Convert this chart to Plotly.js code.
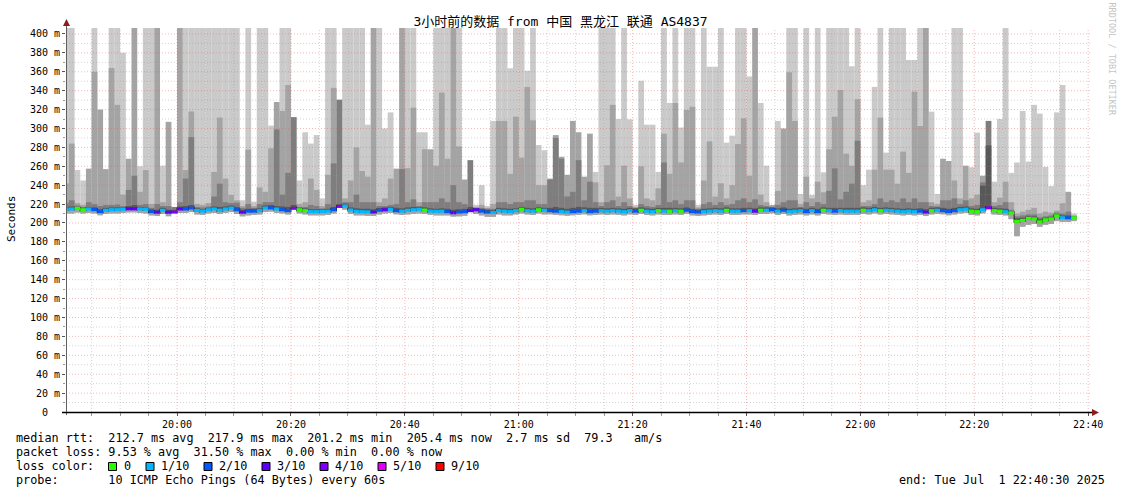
<!DOCTYPE html>
<html><head><meta charset="utf-8">
<script src="https://cdn.plot.ly/plotly-3.0.1.min.js"></script>
<style>html,body{margin:0;padding:0;background:#fff}#chart{width:1121px;height:494px}</style>
</head><body><div id="chart"></div>
<script>
// ---- chart values ----
const titleText = '3小时前的数据 from 中国 黑龙江 联通 AS4837';
const firstStep = '2025-07-01 19:40:00';   // first one-minute step
const axisStart = '2025-07-01 19:40:30';
const axisEnd   = '2025-07-01 22:40:30';
const lossLabels = ['0', '1/10', '2/10', '3/10', '4/10', '5/10', '9/10'];
const lossColors = ['#26ff00', '#00b8ff', '#0059ff', '#5e00ff', '#7e00ff', '#dd00ff', '#ff0000'];
const yTickVals = [0,20,40,60,80,100,120,140,160,180,200,220,240,260,280,300,320,340,360,380,400];
const yTickText = ['0\u00a0\u00a0','20 m','40 m','60 m','80 m','100 m','120 m','140 m','160 m','180 m','200 m','220 m','240 m','260 m','280 m','300 m','320 m','340 m','360 m','380 m','400 m'];

// median rtt per minute (ms)
const median = [
214.8,214.8,215.5,214,214.8,214.1,212,213.5,214.1,214.1,
214.5,215,215,214.8,214.5,212,211.3,213.5,211.3,211.5,
214.8,214.8,215.8,213.2,212.5,214,214.8,213.5,214.8,215.8,
214,211.3,212.5,212.5,213,215.8,216,214.8,214,213,
215.5,214,213,212,212,212.3,212.5,214,217.5,217.9,
213.7,212.3,212,211.8,211.5,213.5,214,214.5,213,212.5,
213.5,214,214.5,213.7,212.5,212.3,212.5,212,210.8,211.5,
212,213,214,212.5,211.5,211,213,212.5,212,213,
214.5,213,212.5,214,213.5,213,212.5,212,211.5,212,
212.5,213,212,212.5,213,212.5,213,212.5,212,213,
212.5,213.5,212.5,212,213,212.5,212.5,213,212.5,213.5,
212,211.5,212,212.5,213,212.5,213.5,212.5,212.5,213,
213,212.5,213.5,213.5,214,212.5,213.5,212,212.5,213,
212,213,212,213.5,213,212.5,213,212.5,212.5,212.5,
213.5,213,214,213,213.5,213,212.5,212,212.5,212,
212.5,211.5,213,213.5,213,212,213,214,214.5,212.5,
212,214,216,213,212.5,212,210.6,201.7,202.7,204.8,
204.4,201.2,203.4,204.4,207.6,205.5,205.5,205.4];

// lost pings out of 10 per minute
const loss = [
1,1,0,0,1,2,2,1,1,1,
1,3,3,1,1,2,3,1,3,4,
3,2,2,1,1,1,1,1,1,1,
2,3,2,2,1,1,2,1,2,2,
4,0,0,1,1,1,1,2,4,1,
1,1,1,1,3,2,3,1,2,1,
1,1,1,0,1,1,1,2,3,2,
2,3,3,2,2,1,1,1,1,1,
0,1,1,0,1,2,2,1,1,2,
2,1,2,2,1,1,1,1,1,1,
2,0,1,1,0,1,0,1,0,2,
2,2,1,1,1,1,0,1,1,2,
1,3,0,1,2,1,2,1,1,1,
2,1,2,0,1,2,1,1,1,1,
0,1,1,0,1,1,1,1,1,1,
2,3,0,1,2,2,2,1,1,0,
0,1,4,0,0,1,0,0,0,0,
0,0,0,0,0,1,2,0];

// smoke: top of each band (ms); 1000 = beyond the top of the scale, null = band not drawn
const top1 = [
1000,1000,256,245,null,1000,null,null,1000,1000,
380,null,null,260,1000,1000,null,260.6,null,null,
null,1000,1000,1000,1000,1000,1000,1000,1000,1000,
1000,224,1000,222.6,1000,1000,303,null,1000,1000,
null,245,296,284,293,226,1000,1000,null,1000,
1000,1000,1000,304,null,1000,300,317,null,null,
1000,1000,296,296,null,1000,1000,1000,null,1000,
null,null,219,240,218,308,1000,1000,363.7,1000,
1000,361,1000,282.5,277,null,null,null,null,null,
null,null,null,254,1000,1000,1000,310,1000,309.7,
219,350.6,304,304,254,1000,327,1000,301,1000,
1000,219,1000,365.4,365.4,1000,285,292.4,1000,1000,
355,null,327,260.6,null,308,null,1000,1000,230.7,
1000,229.6,1000,253.6,1000,1000,1000,1000,365.8,1000,
240,256.4,344,1000,274.4,1000,1000,1000,372.5,372.5,
1000,null,317.8,230.7,null,null,1000,1000,null,259,
295.6,null,null,243.7,310,1000,253,264,318.5,265,
325,315.7,259.3,239,317,346,null,210];

const top2 = [
242,284,221,219,257.5,360,320,257,364,325,
230,268,1000,233,256,220,1000,222,307,null,
1000,256,318,220,219,221,254,311.5,247,229.6,
224,218,277.6,218,237.7,233,279,328,318.5,346,
null,220,222,247,235,218,251,343,null,226,
245,280,255,249,1000,222,226,247,257.5,1000,
258,322,222,278,278,260.6,338,268,1000,281,
246,null,217,219,216,220,308,308,252,312.5,
269,344,308.6,240,240,247,293,270,251,308,
296,249,294.5,243,222,261,325,228,260.6,226,
217,260,226,224,236.7,294.5,252,327,264,319.6,
323,216.5,245,286.4,228,242,226,240,283.6,310.8,
250,1000,230,222,219,234,300,359.4,308,220,
249,226,243.7,232.5,278,312.5,340.7,273.4,260.6,331,
222,224,256.4,311.5,256.4,256.4,241.6,275.5,253,339,
302.6,1000,222,220,268,265.6,245,226,260.6,226,
230,250,null,222,226.8,243.7,222,210,212,214,
216,210,212,211,213,220.8,233,208];

const top3 = [
221,224,218.5,217,222,220,218,219,219,219.5,
218,235,250,219,220,216,220,218,218,217,
222,247,291,217,216.5,217.5,228,241.6,222,221,
221.5,216,220,216,220,222,222,299,230,253,
312,217,217,219,218,215.5,220,263,330.5,222,
222,230,222,222,222,218,218,219,220,257,
222,225,218,222,222,222,226,222,240,222,
220,266.5,216,216,215,215,222,222,220,222,
222,224,224,220,220,246,290,268,228,233,
266.5,224,243.7,222,218,222,224,218,222,218,
216,220,218,217,219,264,222,224,220,224,
224,215,220,222,219,222,219,220,224,226,
222,225,219,218,217,219,222,224,224,217,
222,218,222,220,234,257.8,225,233,241.6,287,
218,218,220,226,222,224,222,226,222,226,
222,222,218,217.5,224,224,226,220,224,218,
219,243,308,218,219,222,214,207,208,209,
209,206,207,208,211,210,212,207];

const top4 = [
217,217.5,217,216,217,216.5,214.5,216,216.5,216.5,
216.5,218,219,217,216.5,214.5,214,216,214,214,
217.5,218,219,215.5,214.5,216,217.5,217,217.5,218.5,
217,214,215,215,215.5,218.5,219,218,217.5,217,
219,216,215.5,214.5,214.5,214.5,215,217,220,220.5,
216.5,215.5,215,215,214.5,216,216.5,217,216,215.5,
216.5,217,217,216.5,215.5,215,215.5,215,214,214.5,
215,217,215.5,215,214,213.5,216,215.5,215,215.5,
217,216,215.5,216.5,216,216,217,216,215,216,
217,216.5,216,216,216,215.5,216,215.5,215,216,
215.5,216.5,215.5,215,216,216,216,216,215.5,216.5,
215,214,215,215.5,216,215.5,216.5,215.5,215.5,216,
216,215.5,216.5,216.5,216.5,215.5,216.5,215,215.5,216,
215,216,215,216.5,216,216,216,216,216,216,
216.5,216,217,216,216.5,216,215.5,215,215.5,215,
215.5,214.5,216,216.5,216,215,216,217,217.5,215.5,
215,239.5,282,216,215.5,215,212,205,205.5,207,
207,204,205.5,206.5,209.5,208,208,206.5];

// lowest ping per minute (ms)
const low = [
210,210,211,210,210.5,210,208,209.5,210,210,
210.5,211,211,210.5,210,208,207.5,209.5,207,207.5,
210.5,210.5,211.5,209,208.5,210,210.5,209.5,210.5,211.5,
209.5,207,208,208.5,209,211.5,212,210.5,210,209,
211,210,209,208,208,208,208.5,210,213,214,
209.5,208,208,207.5,207.5,209,210,210.5,209,208.5,
209,209.5,210,209.5,208.5,208,208,208,206.5,207,
207.5,209,209.5,208,206.5,206.5,209,208,208,209,
210,209,208.5,210,209,209,208.5,208,207.5,208,
208.5,209,208,208.5,209,208.5,209,208.5,208,209,
208.5,209.5,208.5,208,209,208.5,208.5,209,208.5,209.5,
208,207.5,208,208.5,209,208.5,209.5,208.5,208.5,209,
209,208.5,209.5,209.5,210,208.5,209.5,208,208.5,209,
208,209,208,209.5,209,208.5,209,208.5,208.5,208.5,
209.5,209,210,209,209.5,209,208.5,208,208.5,208,
208.5,207.5,209,209.5,209,208,209,210,210.5,208.5,
208,210,212,209,208.5,208,204,186,196,198,
199,196,198,199,202,201,201,202];

// ---- drawing ----
const MONO = "'DejaVu Sans Mono', monospace";
const PL = 66, PW = 1025, PT = 28, PH = 384;
const xp = px => (px - PL) / PW;
const yp = py => (PT + PH - py) / PH;
const STEP = 60000;
const t0 = Date.parse(firstStep.replace(' ', 'T') + 'Z');
const fmt = ms => new Date(ms).toISOString().slice(0, 19).replace('T', ' ');
const xs = median.map((_, i) => fmt(t0 + i * STEP));

function band(tops, bases, color) {
  return {
    type: 'bar', x: xs, base: bases,
    y: tops.map((t, i) => (t === null ? null : t - bases[i])),
    width: STEP * 1.01, offset: 0,
    marker: { color: color, line: { width: 0 } },
    hoverinfo: 'skip'
  };
}

const LW = 3.2; // thickness of the median line in ms (about 3 px)
const traces = [
  band(top1, low, '#cacaca'),
  band(top2, low, '#a4a4a4'),
  band(top3, median, '#7e7e7e'),
  band(top4, median, '#585858')
];
// dark connectors between consecutive medians
const cx = [], cb = [], cy = [];
for (let i = 1; i < median.length; i++) {
  cx.push(fmt(t0 + i * STEP));
  const lo = Math.min(median[i - 1], median[i]), hi = Math.max(median[i - 1], median[i]);
  cb.push(lo - LW / 2); cy.push(hi - lo + LW);
}
traces.push({ type: 'bar', x: cx, base: cb, y: cy, width: 11000, offset: -5500,
  marker: { color: '#202020', line: { width: 0 } }, hoverinfo: 'skip' });
// median coloured by loss
traces.push({ type: 'bar', x: xs, base: median.map(m => m - LW / 2), y: median.map(() => LW),
  width: STEP * 1.01, offset: 0,
  marker: { color: loss.map(l => lossColors[l <= 5 ? l : 6]), line: { width: 0 } }, hoverinfo: 'skip' });

// grid (drawn above the smoke, like rrdtool)
const shapes = [];
const redGrid = 'rgba(228,90,90,0.42)', grayGrid = 'rgba(150,150,150,0.42)';
for (let m = 5; m <= 180; m += 5) {
  const t = Date.parse('2025-07-01T19:40:00Z') + m * STEP;
  const isMajor = (m % 20) === 0;
  shapes.push({ type: 'line', xref: 'x', yref: 'paper', x0: fmt(t), x1: fmt(t), y0: 0, y1: 1,
    line: { color: isMajor ? redGrid : grayGrid, width: 1, dash: '1px,2px' }, layer: 'above' });
}
for (let v = 10; v <= 400; v += 10) {
  shapes.push({ type: 'line', xref: 'paper', yref: 'y', x0: 0, x1: 1, y0: v, y1: v,
    line: { color: (v % 20 === 0) ? redGrid : grayGrid, width: 1, dash: '1px,2px' }, layer: 'above' });
}
// axes with arrows
shapes.push({ type: 'line', xref: 'paper', yref: 'paper', x0: xp(66.5), x1: xp(66.5), y0: yp(415), y1: yp(25),
  line: { color: '#606060', width: 1 }, layer: 'above' });
shapes.push({ type: 'line', xref: 'paper', yref: 'paper', x0: xp(62), x1: xp(1093), y0: yp(412.5), y1: yp(412.5),
  line: { color: '#000', width: 1.5 }, layer: 'above' });
shapes.push({ type: 'path', xref: 'paper', yref: 'paper',
  path: `M ${xp(66.5)},${yp(19)} L ${xp(63)},${yp(26)} L ${xp(70)},${yp(26)} Z`,
  fillcolor: '#8c1c1c', line: { width: 0 }, layer: 'above' });
shapes.push({ type: 'path', xref: 'paper', yref: 'paper',
  path: `M ${xp(1099)},${yp(412.5)} L ${xp(1092)},${yp(409)} L ${xp(1092)},${yp(416)} Z`,
  fillcolor: '#8c1c1c', line: { width: 0 }, layer: 'above' });

// legend text
const nb = s => s.replace(/ /g, '\u00a0');
const annotations = [];
function txt(s, px, py, opt) {
  annotations.push(Object.assign({ text: nb(s), xref: 'paper', yref: 'paper', x: xp(px), y: yp(py),
    xanchor: 'left', yanchor: 'middle', showarrow: false, borderpad: 0, borderwidth: 0,
    font: { family: MONO, size: 11.8, color: '#000' } }, opt || {}));
}
txt('median rtt:  212.7 ms avg  217.9 ms max  201.2 ms min  205.4 ms now  2.7 ms sd  79.3   am/s', 16, 438.3);
txt('packet loss: 9.53 % avg  31.50 % max  0.00 % min  0.00 % now', 16, 452.3);
txt('loss color:', 16, 466.3);
txt('probe:       10 ICMP Echo Pings (64 Bytes) every 60s', 16, 480.3);
txt('end: Tue Jul  1 22:40:30 2025', 1105, 480.3, { xanchor: 'right' });
const boxX = [108.5, 146, 204, 262, 320, 378, 436];
lossLabels.forEach((lab, i) => {
  shapes.push({ type: 'rect', xref: 'paper', yref: 'paper', x0: xp(boxX[i]), x1: xp(boxX[i] + 8),
    y0: yp(470.5), y1: yp(462.5), fillcolor: lossColors[i], line: { color: '#000', width: 1 }, layer: 'above' });
  txt(lab, boxX[i] + 15, 466.3);
});
annotations.push({ text: 'Seconds', xref: 'paper', yref: 'paper', x: xp(11), y: yp(219),
  xanchor: 'center', yanchor: 'middle', textangle: -90, showarrow: false,
  font: { family: MONO, size: 11, color: '#000' } });
annotations.push({ text: nb('RRDTOOL / TOBI OETIKER'), xref: 'paper', yref: 'paper', x: xp(1111.5), y: yp(59),
  xanchor: 'center', yanchor: 'middle', textangle: 90, showarrow: false,
  font: { family: MONO, size: 8.5, color: '#c4c4c4' } });

const layout = {
  width: 1121, height: 494,
  margin: { l: PL, r: 1121 - PL - PW, t: PT, b: 494 - PT - PH, pad: 0 },
  paper_bgcolor: '#ffffff', plot_bgcolor: '#ffffff',
  barmode: 'overlay', showlegend: false,
  title: { text: titleText, font: { family: "'DejaVu Sans Mono', 'Noto Sans CJK SC', monospace", size: 13, color: '#000' },
    x: 0.5, xref: 'container', xanchor: 'center', y: 1 - 21 / 494, yref: 'container', yanchor: 'middle' },
  xaxis: { type: 'date', range: [axisStart, axisEnd], showgrid: false, zeroline: false, showline: false,
    ticks: 'outside', ticklen: 3, tickwidth: 1, tickcolor: '#555',
    tickmode: 'linear', tick0: '2025-07-01 20:00:00', dtick: 20 * STEP, tickformat: '%H:%M',
    tickfont: { family: MONO, size: 10, color: '#000' },
    minor: { tickmode: 'linear', tick0: '2025-07-01 20:00:00', dtick: 5 * STEP, ticks: 'outside', ticklen: 3, tickcolor: '#999', showgrid: false },
    fixedrange: true },
  yaxis: { range: [0, 406.3], showgrid: false, zeroline: false, showline: false,
    ticks: 'outside', ticklen: 3, tickcolor: '#555', tickmode: 'array', tickvals: yTickVals, ticktext: yTickText,
    tickfont: { family: MONO, size: 10, color: '#000' },
    minor: { tickmode: 'linear', tick0: 0, dtick: 10, ticks: 'outside', ticklen: 2, tickcolor: '#999', showgrid: false },
    fixedrange: true },
  shapes: shapes, annotations: annotations
};
Plotly.newPlot('chart', traces, layout, { staticPlot: true, displayModeBar: false });
</script>
</body></html>
